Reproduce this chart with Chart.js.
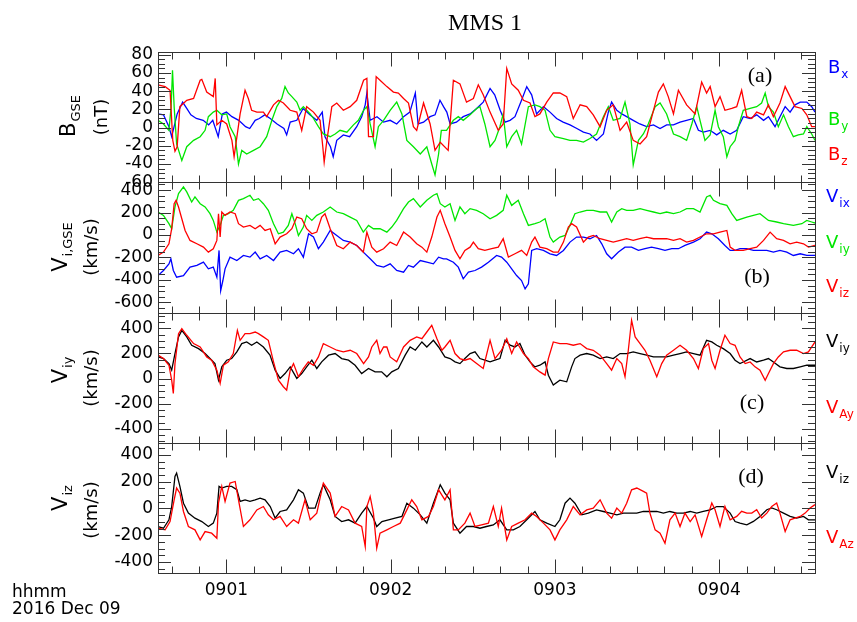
<!DOCTYPE html>
<html>
<head>
<meta charset="utf-8">
<script src="https://cdn.jsdelivr.net/npm/chart.js@4"></script>
<style>
html, body { margin: 0; padding: 0; background: #fff; }
canvas { display: block; }
</style>
</head>
<body>
<canvas id="mms" width="857" height="622"></canvas>
<script>
// time axis: seconds after 09:00:00 UT, 2016 Dec 09
const timeRange = [35, 275];
const timeTicks = [60, 120, 180, 240];

// panel (a) B GSE, nT  -- [seconds, value]
const bx = [[35,15],[37,14],[39,1],[40,-10],[42,15],[44,28],[45.5,21],[47,14],[49,10],[51.5,8],[53.5,3],[55,8],[57,-10],[58.5,15],[60,17],[62,12],[64.5,8],[67,1],[68.5,-1],[70.5,8],[72,10],[74,14],[76,10],[78.5,4],[81,-1],[82,-8],[83.3,6],[85.7,8],[88,21],[90.5,14],[93,8],[95,17],[96,-10],[98,-21],[99,-32],[100.3,-14],[102.7,-8],[105,-10],[107.6,1],[109.4,12],[110.7,25],[111.3,38],[112.5,8],[115,12],[117.4,6],[119.8,8],[122.2,4],[124.7,12],[127,17],[129,38],[130,4],[132,6],[134.4,12],[136.2,14],[138,30],[139.3,23],[140.5,17],[141.7,4],[144,6],[146.5,12],[149,15],[151.4,21],[153.8,28],[156.3,43],[158,36],[160,19],[161.8,6],[163.6,8],[165.4,12],[167.8,30],[169.7,45],[171.5,36],[173.3,15],[175.8,23],[178.2,17],[180.6,10],[183,6],[185.5,3],[188,-1],[190.4,-5],[192.8,-7],[195.2,-14],[197.7,-7],[199.5,17],[200.7,28],[202.6,19],[204.4,15],[206.2,12],[208.6,8],[211,4],[213.5,1],[216,3],[218.4,-1],[220.8,3],[223.3,3],[225.7,6],[228.1,8],[230.6,10],[232.4,-3],[234.2,-5],[236.7,-3],[239.1,-8],[241.5,-3],[244,-7],[246.4,-3],[248.8,12],[251.3,10],[253.7,14],[256.2,8],[258,12],[260.4,1],[262.2,12],[264.1,23],[265.9,17],[267.7,25],[269.6,28],[272,28],[273.8,23],[275,17]];
const by = [[35,8],[37,4],[39,-3],[39.8,23],[40.3,63],[40.9,23],[41.8,-18],[43.7,-36],[45.5,-21],[48,-14],[50.4,-10],[52.2,-3],[53.4,12],[55.2,17],[56.5,19],[58.3,14],[60.1,15],[61.3,1],[63.2,-10],[64.4,-40],[65.6,-25],[67.4,-29],[69.9,-25],[72.3,-21],[74.7,-10],[76.6,8],[78.4,23],[80.2,32],[81.4,45],[82.6,38],[83.9,34],[85.7,28],[86.9,19],[88.1,23],[90.6,15],[91.8,10],[93.6,1],[95.4,-7],[97.9,-10],[99.7,-7],[101.5,-3],[104,-5],[106.4,3],[108.2,8],[110.1,19],[111.3,23],[112.5,4],[114.3,-21],[115.5,1],[117.4,8],[119.8,19],[122.2,28],[124.1,15],[125.9,-14],[128.3,-21],[130.8,-29],[133.2,-21],[135,-40],[136.2,-52],[137.5,-29],[138.5,-3],[140.4,-3],[142.9,8],[144.7,12],[146.5,8],[149,14],[151.4,21],[152.6,23],[154.4,4],[156.3,-21],[158.1,-14],[159.9,1],[161.1,15],[162.4,-21],[164.2,-10],[166,-3],[167.8,-18],[170.3,23],[172.7,25],[174.5,23],[176.4,19],[178.2,-3],[180,-10],[183.1,-12],[185.5,-14],[187.9,-14],[190.4,-16],[192.8,-12],[195.2,-7],[197.7,12],[199.5,23],[201.3,8],[203.8,10],[205.6,28],[207.4,4],[208.6,-41],[210.5,-14],[212.3,-7],[214.1,4],[216.6,23],[218.4,27],[220.8,15],[223.3,-7],[225.7,-10],[228.1,-14],[230,4],[231.8,23],[233,8],[234.8,-14],[236.7,-8],[238.5,19],[239.7,1],[241.5,-10],[242.8,-32],[244,-21],[245.8,-14],[247,1],[248.8,19],[251.3,21],[253.7,23],[255.5,27],[256.8,38],[258,23],[259.8,17],[261.6,1],[263.5,14],[265.3,1],[267.1,-10],[268.9,-8],[270.8,-7],[272,1],[273.8,-7],[275,-14]];
const bz = [[35,47],[37.6,45],[39.4,41],[40.4,-14],[41.2,-26],[42,-21],[43,23],[45.5,30],[48,32],[50.4,52],[51,53],[52.8,39],[55.2,34],[55.9,54],[56.5,3],[58.3,8],[60.1,4],[62,-14],[62.8,-32],[65,15],[66.8,41],[68,32],[69.2,19],[71.1,17],[73.5,17],[74.7,12],[77.2,25],[79,30],[80.8,27],[83.3,19],[85.7,17],[87.5,-3],[89.3,23],[91.8,17],[94.2,8],[95.2,-21],[95.7,-38],[96.7,-14],[98.5,23],[100.3,27],[102.7,19],[105.2,23],[107.6,30],[110.1,52],[111.3,54],[111.9,-10],[113.7,-10],[114.7,56],[116.1,52],[118.6,45],[121,39],[122.8,38],[124.7,32],[126.5,27],[128.3,1],[129.5,-3],[132,27],[134.4,4],[136.2,-25],[138.1,-16],[141,-25],[142.9,52],[145.3,48],[147.7,28],[150.2,32],[152,47],[153.8,36],[156.3,17],[159.3,-3],[161.1,4],[162.4,65],[164.2,48],[166.6,41],[168.5,30],[170.9,27],[172.7,12],[174.5,15],[177,28],[179.4,38],[181.8,38],[184.3,34],[186.7,10],[189.2,25],[191.6,23],[194,14],[196.5,1],[198.9,19],[201.3,25],[203.8,-3],[206.2,6],[208.6,-14],[211.1,-18],[213.5,-10],[216,19],[217.8,39],[219.6,48],[221.4,34],[223.3,15],[225.1,41],[228.1,25],[231.2,15],[233.6,50],[235.4,38],[236.7,45],[238.5,23],[240.3,34],[242.1,19],[244.6,21],[246.4,23],[248.2,41],[250.1,12],[251.9,10],[253.7,17],[256.2,14],[258,25],[259.8,12],[262.2,27],[264.1,45],[265.9,34],[267.7,23],[270.2,21],[272,14],[273.8,1],[275,1]];

// panel (b) ion velocity GSE, km/s
const vix = [[35,-361],[37,-316],[39,-257],[39.7,-212],[40.6,-316],[41.8,-376],[44.3,-361],[46.7,-286],[49.2,-271],[51.6,-242],[53.4,-301],[55.2,-286],[56.5,-376],[57.3,-137],[57.9,-495],[58.7,-405],[59.5,-301],[61.3,-197],[63.8,-227],[66.2,-182],[68.6,-197],[70.5,-152],[72.3,-212],[74.7,-182],[77.2,-227],[79.6,-152],[82,-137],[84.5,-167],[86.3,-122],[88.1,-197],[90,11],[91.8,-18],[93.6,-122],[95.4,-63],[97.9,41],[100.3,-4],[102.7,-48],[105.2,-63],[107.6,-93],[110,-152],[112.5,-212],[114.9,-271],[117.4,-286],[119.8,-257],[122.2,-316],[124.7,-331],[126.5,-271],[128.3,-286],[130.8,-227],[133.2,-242],[135.6,-257],[137.5,-197],[139.3,-212],[140.4,-212],[142.9,-242],[144.7,-286],[146.5,-390],[148.4,-331],[150.8,-316],[153.2,-286],[155.7,-242],[158.7,-182],[160.5,-197],[162.4,-242],[164.2,-301],[166,-361],[167.8,-405],[169.1,-480],[170.3,-435],[171.5,-137],[173.3,-122],[175.8,-137],[178.2,-167],[180.6,-182],[183.1,-137],[185.5,-63],[187.9,-18],[190.4,-18],[192.8,-33],[195.2,-4],[197.1,-78],[198.9,-167],[200.7,-212],[203.2,-152],[205.6,-108],[208,-108],[210.5,-137],[212.9,-122],[215.3,-108],[217.8,-122],[220.2,-137],[222.7,-122],[225.1,-122],[227.5,-93],[230.6,-63],[233,-33],[235.4,26],[237.3,11],[239.7,-33],[242.1,-93],[244,-137],[245.8,-137],[247.6,-122],[250.1,-122],[252.5,-137],[254.9,-137],[257.4,-137],[259.8,-152],[262.2,-137],[264.7,-152],[267.1,-182],[269.6,-167],[272,-182],[275,-182]];
const viy = [[35,205],[37,175],[39,101],[40,56],[41.2,250],[42.5,369],[44.3,428],[45.5,384],[47.3,294],[48.5,339],[50.4,279],[52.2,250],[54,190],[55.2,130],[56.5,26],[57.7,86],[58.9,175],[60.7,190],[62.5,220],[64.4,309],[66.2,324],[68.6,354],[69.9,309],[71.7,324],[73.5,279],[75.3,220],[77.2,101],[79,11],[80.8,26],[82.6,86],[83.9,190],[85.1,101],[86.3,-4],[88.1,71],[89.3,175],[91.2,130],[93,175],[95.4,205],[97.9,250],[100.3,205],[102.7,190],[105.2,160],[107.6,130],[110,26],[111.9,86],[113.7,56],[116.1,56],[118.6,26],[120.4,71],[122.2,130],[124.7,235],[126.5,294],[128.3,324],[130.8,250],[133.2,309],[135.6,354],[136.9,369],[138.1,279],[139.8,250],[141.7,279],[143.5,130],[145.3,250],[147.1,190],[149,235],[151.4,220],[153.8,190],[156.3,145],[158.7,175],[161.1,220],[162.4,354],[164.2,264],[166.6,309],[168.5,190],[170.3,86],[172.7,101],[174.5,116],[176.4,145],[178.2,-18],[179.4,-63],[181.8,-18],[183.7,-4],[185.5,86],[187.3,190],[189.2,205],[191.6,220],[194,220],[196.5,205],[198.9,205],[200.7,116],[202.6,205],[204.4,235],[206.2,220],[208.6,220],[211.1,235],[213.5,220],[216,205],[218.4,190],[220.8,205],[223.3,190],[225.7,205],[228.1,235],[230.6,235],[233,205],[235.4,339],[236.7,354],[237.9,309],[240.3,279],[242.8,264],[244.6,190],[246.4,130],[250.1,160],[252.5,175],[254.9,190],[258,130],[261,116],[263.5,101],[267.1,86],[270.2,101],[272,130],[273.8,116],[275,107]];
const viz = [[35,-182],[37,-152],[39,-78],[40,56],[40.9,279],[41.6,309],[42.5,250],[43.7,145],[44.9,41],[46.7,-48],[49.2,-78],[51.6,-108],[53.4,-152],[55.2,-122],[56.5,-48],[57.1,190],[57.7,-18],[58.3,205],[59.5,175],[61.3,205],[63.2,190],[64.4,101],[66.2,71],[68.6,86],[70.5,56],[72.3,86],[74.1,41],[76,56],[77.8,-78],[79.6,-18],[82,11],[83.9,56],[85.7,160],[87.5,145],[89.3,56],[91.2,11],[93,26],[94.8,160],[96,190],[97.9,56],[100.3,-93],[102.7,-122],[105.2,-63],[107.6,-93],[110,-152],[111.3,26],[113.1,-108],[114.9,-152],[117.4,-122],[119.8,-63],[122.2,-93],[124.7,26],[127.1,-18],[129.5,-78],[131.4,-108],[133.2,-152],[135,-18],[136.9,160],[138.1,220],[139.8,101],[141.7,-18],[143.5,-137],[145.3,-212],[147.1,-137],[149,-108],[150.2,-63],[152,-122],[154.4,-137],[156.9,-122],[159.3,-108],[161.1,-33],[163,-197],[165.4,-167],[167.8,-137],[169.7,-182],[171.5,-63],[172.7,-18],[174.5,-108],[177,-122],[179.4,-152],[181.2,-152],[183.1,-63],[184.9,71],[186.1,101],[187.9,71],[190.4,-63],[192.2,-18],[194,-4],[196.5,-33],[198.9,-48],[201.3,-63],[203.8,-48],[206.2,-33],[208.6,-48],[211,-33],[213.5,-18],[216,-33],[218.4,-33],[220.8,-33],[223.3,-48],[225.7,-33],[228.1,-63],[230.6,-48],[233,-18],[235.4,11],[237.9,11],[240.3,26],[242.8,41],[244,-108],[245.8,-137],[248.8,-137],[251.3,-122],[253.7,-108],[256.2,-48],[258.6,26],[261,-33],[263.5,-48],[265.9,-78],[268.3,-63],[270.8,-78],[272.6,-108],[275,-93]];

// panel (c) Viy vs Alfven VAy, km/s
const viyC = [[35,172],[37,159],[39,119],[40,67],[41.2,199],[42.5,331],[43.7,383],[45.5,331],[47.3,265],[49.8,238],[52.2,199],[54,159],[55.8,119],[57.1,-13],[58.3,93],[60.1,146],[61.9,159],[63.8,212],[65.6,278],[67.4,291],[69.2,265],[71.1,291],[73.5,251],[75.9,186],[77.8,67],[79.6,1],[81.4,40],[83.3,93],[85.7,1],[87.5,40],[89.3,93],[91.2,146],[93,80],[94.8,133],[97.3,186],[99.7,199],[102.1,159],[104.6,146],[107,106],[109.4,40],[111.9,80],[114.3,53],[116.7,53],[118.6,14],[120.4,53],[122.8,80],[125.3,186],[127.1,251],[129,225],[131.4,291],[133.2,251],[135.6,304],[137.5,251],[139.8,172],[141.7,159],[143.5,133],[145.3,119],[147.1,159],[149,199],[150.8,212],[152.6,159],[154.4,146],[156.3,133],[158.1,146],[159.9,159],[161.8,304],[163.6,265],[165.4,251],[167.2,278],[169.1,186],[170.9,133],[172.7,93],[174.5,106],[176.4,133],[177.6,27],[179.4,-52],[181.8,-13],[184.3,-26],[186.1,93],[187.3,159],[189.2,186],[191.6,199],[194,186],[196.5,159],[198.9,172],[201.3,159],[203.8,199],[206.2,199],[208.6,212],[211.1,199],[213.5,186],[216,172],[218.4,172],[220.8,172],[223.3,186],[225.7,199],[228.1,212],[230.6,199],[233,186],[235.4,304],[237.3,291],[239.1,265],[241.5,238],[244,199],[245.8,146],[247.6,119],[248.8,132],[251.3,159],[253.7,132],[256.2,146],[258,159],[259.8,132],[262.2,93],[264.7,80],[267.1,80],[269.6,93],[272,106],[275,106]];
const vay = [[35,186],[37,159],[39,106],[40,-13],[40.6,-118],[41.2,119],[42.5,357],[43.7,397],[45.5,344],[48,278],[50.4,251],[52.8,172],[54.6,146],[56.5,67],[57.7,-39],[58.9,106],[60.7,133],[62.5,199],[64,383],[65,304],[66.8,357],[68.6,357],[70.5,370],[71.7,357],[73.5,331],[75.3,304],[77.2,133],[79,-13],[80.8,-65],[82,-92],[83.3,67],[84.5,119],[86.3,14],[88.1,80],[89.9,133],[91.8,106],[93.6,172],[95.4,278],[97.9,251],[100.3,225],[102.7,212],[105.2,225],[107.6,199],[110.1,119],[111.9,172],[113.1,251],[114.9,304],[116.1,199],[117.4,251],[118.6,251],[119.8,172],[122.2,133],[124.7,251],[127.1,304],[129.5,331],[131.4,317],[133.2,370],[135,423],[136.9,317],[138.7,225],[139.8,251],[141.7,304],[143.5,199],[145.3,159],[147.1,146],[149,159],[151.4,119],[153.8,80],[156.3,304],[158.1,159],[160.5,225],[162.4,317],[164.2,199],[166,291],[168.5,199],[170.3,159],[172.1,93],[174.5,53],[176.4,27],[177.6,159],[179.4,291],[181.8,278],[184.3,278],[186.7,265],[189.2,278],[191.6,238],[194,225],[196.5,186],[198.9,119],[200.7,67],[202.6,159],[204.4,119],[205.6,14],[206.8,225],[208,463],[209.3,331],[211.1,278],[212.9,225],[214.7,146],[217.2,14],[219,119],[220.8,186],[223.3,225],[225.7,264],[228.1,225],[230.6,159],[232.4,80],[234.2,238],[236.1,278],[237.3,146],[238.5,80],[240.3,225],[242.1,344],[244,278],[245.8,264],[247.6,172],[249.5,119],[251.3,132],[253.1,93],[254.9,66],[256.8,-13],[258,40],[259.8,119],[261.6,172],[263.5,212],[265.9,225],[268.3,225],[270.8,198],[272.6,212],[273.8,251],[275,291]];

// panel (d) Viz vs Alfven VAz, km/s
const vizD = [[35,-135],[37,-148],[39,-85],[40,14],[41.2,239],[41.8,264],[43,164],[44.3,39],[46.1,-35],[48.5,-73],[51,-98],[53.4,-135],[55.2,-110],[56.5,-35],[57.3,164],[58.3,152],[60.1,164],[61.9,164],[63.8,139],[65,52],[66.8,64],[68.6,52],[70.5,64],[72.3,77],[74.1,64],[76,14],[77.8,-73],[79.6,-23],[82,-11],[84.5,64],[86.3,139],[88.1,114],[90,2],[92.4,2],[94.2,114],[95.4,177],[97.9,64],[99.7,-60],[102.1,-98],[104.6,-85],[107,-110],[109.4,-35],[111.3,14],[113.7,-73],[114.9,-135],[116.8,-98],[119.2,-85],[121.6,-73],[124.1,-60],[125.9,39],[128.3,2],[130.8,-48],[133.2,-110],[135.6,39],[138.1,177],[139.8,114],[141.7,64],[142.9,-110],[145.3,-185],[147.7,-135],[150.2,-135],[152.6,-148],[155,-135],[157.5,-123],[159.9,-85],[162.4,-160],[164.8,-160],[167.2,-135],[169.7,-85],[172.7,-23],[174.5,-85],[177,-110],[180,-135],[181.8,-85],[183.7,39],[185.5,77],[187.3,39],[189.8,-48],[192.2,-35],[195.2,-11],[197.7,-23],[200.1,-35],[202.6,-48],[205,-35],[207.4,-35],[209.9,-35],[212.3,-23],[214.7,-23],[217.2,-23],[219.6,-35],[222,-23],[224.5,-35],[226.9,-35],[229.4,-23],[231.8,-35],[234.2,-23],[236.7,-11],[239.1,14],[241.5,14],[244,-35],[245.8,-98],[247.6,-110],[250.1,-122],[252.5,-97],[254.9,-60],[257.4,-10],[259.2,3],[261,-10],[263.5,-35],[265.9,-60],[268.3,-72],[270.8,-60],[272.6,-85],[275,-85]];
const vaz = [[35,-148],[37.6,-160],[39.4,-98],[40.9,64],[41.8,152],[43,114],[44.3,-23],[46.1,-135],[48.5,-160],[50.4,-235],[52.2,-173],[54.6,-185],[56.5,-223],[57.1,39],[58.3,164],[59.5,52],[61.3,189],[63.2,201],[64.4,64],[66.2,-135],[68.6,-85],[71.1,-11],[73.5,14],[75.3,-48],[77.2,-85],[79.6,-60],[82,-135],[84.5,-85],[86.3,-110],[88.7,64],[90.6,-85],[93,-35],[95.4,189],[97.9,114],[99.7,-60],[102.1,14],[104.6,-11],[107,-110],[109.4,-135],[110.7,-285],[111.3,14],[112.5,89],[113.7,-35],[114.9,-297],[116.1,-185],[118.6,-160],[121,-135],[123.5,-110],[125.9,-11],[127.7,64],[129.5,14],[131.4,-85],[133.8,-60],[135.6,14],[137.5,139],[139.8,64],[141.7,139],[142.9,-160],[144.7,-160],[147.1,-110],[149,-35],[150.8,-135],[153.2,-123],[155.7,-110],[157.5,14],[159.3,-135],[160.5,2],[162.4,-235],[164.2,-135],[166.6,-110],[169.1,-85],[171.5,-35],[173.3,-60],[175.8,-110],[178.2,-160],[180,-235],[181.8,-160],[184.3,-85],[186.7,14],[189.2,-48],[191.6,-11],[194,2],[196.5,64],[198.9,-35],[200.7,-73],[202.6,2],[204.4,-35],[206.2,39],[208,139],[209.9,152],[212.3,127],[213.5,114],[214.7,-35],[216.6,-160],[218.4,-185],[220.2,-260],[222,-85],[223.9,-35],[225.7,-135],[227.5,-35],[229.4,-98],[231.2,-48],[233.6,-210],[235.4,-85],[237.3,40],[238.5,-10],[240.3,-135],[242.1,15],[244,-85],[246.4,-60],[248.2,-22],[250.1,-35],[251.9,-35],[253.7,-10],[255.5,-72],[257.4,-35],[259.2,15],[261,40],[262.2,-35],[264.1,-172],[265.9,-85],[267.7,-72],[269.6,-60],[271.4,-35],[273.2,3],[275,28]];

// y ranges of the four panels, top to bottom
const yRanges = { yA: [-60, 83], yB: [-690, 470], yC: [-510, 525], yD: [-482, 490] };
const yMajor = { yA: 20, yB: 200, yC: 200, yD: 200 };
const yMinor = { yA: 5, yB: 50, yC: 50, yD: 50 };

const BLUE = '#0000ff', GREEN = '#00e600', RED = '#ff0000', BLACK = '#000000';
const SANS = '"DejaVu Sans", sans-serif';
const SERIF = '"Liberation Serif", "Times New Roman", serif';

function series(pairs, axis, color, order) {
  return {
    data: pairs.map(p => ({ x: p[0], y: p[1] })),
    yAxisID: axis, borderColor: color, borderWidth: 1.3,
    pointRadius: 0, tension: 0, order: order
  };
}

function yScale(id, weight) {
  return {
    type: 'linear', position: 'left', stack: 'mms', stackWeight: 1, weight: weight,
    min: yRanges[id][0], max: yRanges[id][1],
    grid: { display: false, drawTicks: false },
    border: { display: false },
    ticks: { autoSkip: false, padding: 5, color: BLACK, font: { family: SANS, size: 17 } },
    afterBuildTicks: s => {
      const st = yMajor[id], out = [];
      for (let v = Math.ceil(s.min / st) * st; v <= s.max; v += st) out.push({ value: v });
      s.ticks = out;
    },
    afterFit: s => { s.width = 158; }
  };
}

function line(ctx, x1, y1, x2, y2) {
  ctx.beginPath(); ctx.moveTo(x1, y1); ctx.lineTo(x2, y2); ctx.stroke();
}

const framePlugin = {
  id: 'frame',
  afterDatasetsDraw(chart) {
    const ctx = chart.ctx, xs = chart.scales.x;
    const l = xs.left, r = xs.right;
    ctx.save();
    ctx.strokeStyle = '#333';
    ctx.lineWidth = 1;
    ['yA', 'yB', 'yC', 'yD'].forEach(id => {
      const s = chart.scales[id];
      const top = Math.round(s.top) + 0.5, bot = Math.round(s.bottom) + 0.5;
      ctx.strokeRect(Math.round(l) + 0.5, top, Math.round(r - l), bot - top);
      for (let t = Math.ceil(xs.min / 10) * 10; t <= xs.max; t += 10) {
        const px = Math.round(xs.getPixelForValue(t)) + 0.5;
        const len = t % 60 === 0 ? 14 : 7;
        line(ctx, px, bot, px, bot - len);
        line(ctx, px, top, px, top + len);
      }
      const mn = yMinor[id], mj = yMajor[id];
      for (let k = Math.ceil(s.min / mn); k * mn <= s.max; k++) {
        const v = k * mn;
        const py = Math.round(s.getPixelForValue(v)) + 0.5;
        const len = v % mj === 0 ? 13 : 7;
        line(ctx, l, py, l + len, py);
        line(ctx, r, py, r - len, py);
      }
    });
    ctx.restore();
  }
};

function withSub(ctx, x, y, main, sub, color, size, subSize) {
  ctx.fillStyle = color;
  ctx.font = size + 'px ' + SANS;
  ctx.fillText(main, x, y);
  const w = ctx.measureText(main).width;
  ctx.font = subSize + 'px ' + SANS;
  ctx.fillText(sub, x + w + 1, y + 5);
}

function vertical(ctx, cx, cy, main, sub, size, subSize) {
  ctx.save();
  ctx.translate(cx, cy);
  ctx.rotate(-Math.PI / 2);
  ctx.fillStyle = BLACK;
  ctx.font = size + 'px ' + SANS;
  const w1 = ctx.measureText(main).width;
  ctx.font = subSize + 'px ' + SANS;
  const w2 = sub ? ctx.measureText(sub).width + 1 : 0;
  const x0 = -(w1 + w2) / 2, base = size * 0.36;
  ctx.font = size + 'px ' + SANS;
  ctx.fillText(main, x0, base);
  if (sub) {
    ctx.font = subSize + 'px ' + SANS;
    ctx.fillText(sub, x0 + w1 + 1, base + size * 0.25);
  }
  ctx.restore();
}

const textPlugin = {
  id: 'texts',
  afterDraw(chart) {
    const ctx = chart.ctx;
    ctx.save();
    ctx.textBaseline = 'alphabetic';
    ctx.textAlign = 'center';
    ctx.fillStyle = BLACK;
    ctx.font = '24px ' + SERIF;
    ctx.fillText('MMS 1', 485, 30);
    ctx.font = '22px ' + SERIF;
    ctx.fillText('(a)', 760, 82);
    ctx.fillText('(b)', 757, 283);
    ctx.fillText('(c)', 752, 409);
    ctx.fillText('(d)', 751, 483);

    ctx.textAlign = 'left';
    [['B', 'x', BLUE, 828, 73], ['B', 'y', GREEN, 828, 125], ['B', 'z', RED, 828, 160],
     ['V', 'ix', BLUE, 826, 202], ['V', 'iy', GREEN, 826, 248], ['V', 'iz', RED, 826, 292],
     ['V', 'iy', BLACK, 826, 347], ['V', 'Ay', RED, 826, 413],
     ['V', 'iz', BLACK, 826, 478], ['V', 'Az', RED, 826, 543]]
      .forEach(a => withSub(ctx, a[3], a[4], a[0], a[1], a[2], 18, 12));

    vertical(ctx, 67, 116, 'B', 'GSE', 21, 13);
    vertical(ctx, 101, 117, '(nT)', '', 18, 12);
    vertical(ctx, 59, 247, 'V', 'i,GSE', 21, 13);
    vertical(ctx, 91, 247, '(km/s)', '', 18, 12);
    vertical(ctx, 59, 370, 'V', 'iy', 21, 13);
    vertical(ctx, 91, 378, '(km/s)', '', 18, 12);
    vertical(ctx, 59, 498, 'V', 'iz', 21, 13);
    vertical(ctx, 91, 510, '(km/s)', '', 18, 12);

    ctx.fillStyle = BLACK;
    ctx.font = '17px ' + SANS;
    ctx.fillText('hhmm', 12, 597);
    ctx.fillText('2016 Dec 09', 12, 614);
    ctx.restore();
  }
};

new Chart(document.getElementById('mms'), {
  type: 'line',
  data: {
    datasets: [
      series(bx, 'yA', BLUE, 3), series(by, 'yA', GREEN, 2), series(bz, 'yA', RED, 1),
      series(vix, 'yB', BLUE, 3), series(viy, 'yB', GREEN, 2), series(viz, 'yB', RED, 1),
      series(viyC, 'yC', BLACK, 2), series(vay, 'yC', RED, 1),
      series(vizD, 'yD', BLACK, 2), series(vaz, 'yD', RED, 1)
    ]
  },
  options: {
    responsive: false,
    animation: false,
    events: [],
    layout: { padding: { top: 52, right: 42, left: 0, bottom: 0 } },
    plugins: { legend: { display: false }, tooltip: { enabled: false } },
    scales: {
      x: {
        type: 'linear', position: 'bottom', min: timeRange[0], max: timeRange[1],
        grid: { display: false, drawTicks: false },
        border: { display: false },
        ticks: {
          autoSkip: false, maxRotation: 0, padding: 7, color: BLACK,
          font: { family: SANS, size: 17 },
          callback: v => '09' + String(Math.round(v / 60)).padStart(2, '0')
        },
        afterBuildTicks: s => { s.ticks = timeTicks.map(v => ({ value: v })); },
        afterFit: s => { s.height = 49; }
      },
      yA: yScale('yA', 4),
      yB: yScale('yB', 3),
      yC: yScale('yC', 2),
      yD: yScale('yD', 1)
    }
  },
  plugins: [framePlugin, textPlugin]
});
</script>
</body>
</html>
